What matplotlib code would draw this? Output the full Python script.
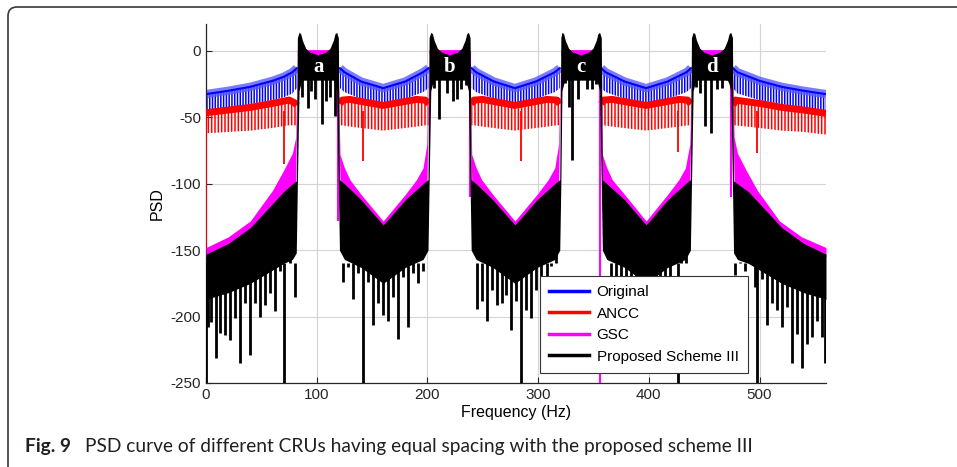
import numpy as np
import matplotlib
matplotlib.use("Agg")
import matplotlib.pyplot as plt
from matplotlib.lines import Line2D
from matplotlib.patches import FancyBboxPatch
from matplotlib.transforms import IdentityTransform

nan = np.nan

# -------- Data (PSD in dB, frequency in Hz) --------
# Original: upper edge of the band and lower tips of its ripple
orig_f = [0, 20, 40, 60, 70, 78, 82, 83, 120, 121, 125, 140, 160, 180, 196, 201,
          202, 239, 240, 244, 260, 279, 298, 315, 319.5, 320.5, 356.5, 357, 361, 378,
          397.5, 417, 434, 438, 439, 475.5, 476, 480, 500, 520, 540, 560]
orig_top = [-32.5, -30, -27, -22.5, -19.5, -16, -13, nan, nan, -13, -16, -23, -28, -23, -16, -13,
            nan, nan, -13, -16, -23, -28, -23, -16, -13, nan, nan, -13, -16, -23,
            -28, -23, -16, -13, nan, nan, -13, -16, -22.5, -27, -30, -32.5]
orig_low = [-45, -43, -40, -37, -35, -32, -28, nan, nan, -28, -31, -36, -40, -36, -31, -28,
            nan, nan, -28, -31, -36, -40, -36, -31, -28, nan, nan, -28, -31, -36,
            -40, -36, -31, -28, nan, nan, -28, -32, -37, -40, -43, -45]

# ANCC
ancc_f = [0, 20, 40, 60, 75, 80, 82, 83, 120, 121, 123, 130, 160, 190, 198, 201,
          202, 239, 239.5, 242, 250, 279, 308, 317, 319.5, 320.5, 356.5, 357, 359, 367,
          397.5, 427, 435, 438, 439, 475.5, 476, 478, 500, 520, 540, 560]
ancc_top = [-46.5, -44.5, -42.5, -39.5, -37, -39, -41, nan, nan, -40, -37, -36.5, -41, -36.5, -37, -40,
            nan, nan, -40, -37, -36.5, -41, -36.5, -37, -40, nan, nan, -40, -37, -36.5,
            -41, -36.5, -37, -40, nan, nan, -41, -37, -39.5, -42.5, -44.5, -47]
ancc_low = [-62, -61, -60, -58, -56, -56, -56, nan, nan, -56, -56, -57, -60, -57, -56, -56,
            nan, nan, -56, -56, -57, -60, -57, -56, -56, nan, nan, -56, -56, -57,
            -60, -57, -56, -56, nan, nan, -56, -56, -58, -60, -61, -63]
ancc_spike_f = [0, 70.7, 142, 284.4, 426.6, 497.7]
ancc_spike_v = [-150, -85, -83, -83, -76, -77]

# GSC
gsc_f = [0, 20, 40, 60, 70, 78, 81, 82.5, 119,
         121, 125, 130, 140, 160, 180, 190, 196, 199.5, 201.5, 238,
         240, 244, 249, 259, 279, 299, 309, 315, 318.5, 320.5, 356,
         358, 362, 367, 378, 397.5, 417, 427, 433, 437, 439, 475,
         477, 480, 488, 498, 518, 538, 560]
gsc_top = [-148, -140, -128, -105, -90, -77, -65, 1, 1,
           -78, -88, -97, -108, -128, -108, -97, -88, -70, 1, 1,
           -78, -88, -97, -108, -128, -108, -97, -88, -70, 1, 1,
           -78, -88, -97, -108, -128, -108, -97, -88, -70, 1, 1,
           -65, -77, -90, -105, -128, -140, -148]
gsc_low = [-155, -147, -135, -117, -108, -102, -100, -3, -3,
           -100, -102, -106, -114, -134, -114, -106, -102, -100, -3, -3,
           -100, -102, -106, -114, -134, -114, -106, -102, -100, -3, -3,
           -100, -102, -106, -114, -134, -114, -106, -102, -100, -3, -3,
           -100, -102, -108, -117, -135, -147, -155]
gsc_spike_f = [119.5, 238.5, 356, 474.5]
gsc_spike_v = [-128, -110, -250, -110]

# Proposed scheme III: top of the trace and bottom of its solid part
prop_f = [0, 20, 40, 60, 70, 78, 81.5,
          82.5, 84, 85.5, 87, 90, 94, 101, 108, 112, 115, 116.5, 118, 119.5,
          120.5, 125, 140, 160, 180, 196, 200.5,
          201.5, 203, 204.5, 206, 209, 213, 220, 227, 231, 234, 235.5, 237, 238.5,
          239.5, 244, 259, 279, 299, 315, 319.5,
          320.5, 321.5, 323, 324.5, 327.5, 331.5, 338.5, 345.5, 349.5, 352.5, 354, 355.5, 357,
          358, 362, 378, 397.5, 417, 433, 437.5,
          438.5, 440, 441.5, 443, 446, 450, 457, 464, 468, 471, 472.5, 474, 475.5,
          476.5, 480, 490, 500, 520, 540, 560]
prop_top = [-153, -145, -133, -115, -106, -100, -98,
            10, 14, 13, 8, 2, -1, -3, -1, 2, 8, 13, 14, 10,
            -97, -100, -112, -131, -112, -100, -97,
            10, 14, 13, 8, 2, -1, -3, -1, 2, 8, 13, 14, 10,
            -97, -100, -112, -131, -112, -100, -97,
            10, 14, 13, 8, 2, -1, -3, -1, 2, 8, 13, 14, 10,
            -97, -100, -112, -131, -112, -100, -97,
            10, 14, 13, 8, 2, -1, -3, -1, 2, 8, 13, 14, 10,
            -98, -100, -106, -115, -133, -145, -153]
prop_low = [-187, -182, -175, -165, -160, -157, -152,
            -100, -30, -25, -22, -22, -22, -22, -22, -22, -22, -25, -30, -100,
            -150, -157, -163, -175, -163, -157, -150,
            -100, -30, -25, -22, -22, -22, -22, -22, -22, -22, -25, -30, -100,
            -150, -157, -163, -175, -163, -157, -150,
            -100, -30, -25, -22, -22, -22, -22, -22, -22, -22, -25, -30, -100,
            -150, -157, -163, -175, -163, -157, -150,
            -100, -30, -25, -22, -22, -22, -22, -22, -22, -22, -25, -30, -100,
            -152, -157, -160, -165, -175, -182, -187]

# deep notches between the bands
prop_spike_f = [0, 2, 4.5, 8.7, 12.6, 17, 21.7, 26, 30.7, 35, 39.7, 44, 48.8, 53, 57.8, 62, 67, 70.7, 76, 80,
                124, 128.6, 133, 137.6, 142, 146.6, 151, 155.6, 160, 164.7, 169, 173.7, 178, 182.7, 187, 191.8, 196,
                244.5, 249, 254, 258, 262.6, 267, 271, 275.5, 280, 284.4, 289, 293.6, 298, 303, 307.8, 311.4, 316,
                361, 365.5, 370, 374.5, 379, 383.5, 388, 392.5, 397, 401.5, 406, 410.5, 415, 419.5, 424, 426.6, 429, 433.5,
                478, 482.4, 487, 491.4, 496, 497.7, 502, 506.5, 511, 515.5, 520, 524.6, 529, 533.6, 538, 542.6, 547, 551.7, 556, 559]
prop_spike_v = [-250, -208, -204, -231, -212, -214, -218, -201, -235, -190, -229, -190, -200, -191, -182, -196, -166, -250, -156, -185,
                -174, -163, -187, -167, -250, -174, -206, -190, -199, -203, -185, -217, -170, -208, -167, -175, -166,
                -194, -188, -203, -180, -191, -190, -184, -210, -188, -250, -195, -201, -180, -175, -172, -162, -150,
                -160, -175, -190, -185, -200, -195, -205, -190, -210, -200, -185, -205, -190, -175, -160, -250, -155, -152,
                -169, -159, -166, -160, -178, -250, -172, -206, -190, -195, -208, -193, -235, -213, -239, -221, -215, -203, -215, -235]

# notches inside the four bands
band_spike_f = [86.5, 92.4, 95, 98.5, 104.5, 108, 112, 116.5,
                206, 210.8, 217.4, 223.4, 227, 230.6, 234.5,
                324.3, 328, 331, 336, 344, 348.4, 352,
                443, 446, 450.8, 456, 461.3, 466, 470.3]
band_spike_v = [-35, -43, -30, -36.5, -55, -38, -35, -49,
                -28, -51.5, -32, -37.5, -36.5, -29, -26,
                -24, -42, -82, -36.5, -29, -29, -25,
                -27, -32, -56.5, -62, -29, -28, -22]

band_names = ["a", "b", "c", "d"]
band_centers = [101.5, 220, 338.5, 457]

# -------- Plot --------
plt.rcParams['font.family'] = ['Liberation Sans', 'DejaVu Sans']
plt.rcParams['axes.unicode_minus'] = False
plt.rcParams['hatch.linewidth'] = 1.1

fig = plt.figure(figsize=(9.57, 4.67), dpi=100)
ax = fig.add_axes([0.2153, 0.1799, 0.6478, 0.7679])

blue, red, mag = '#0000ff', '#ff0000', '#ff00ff'

# Original
ax.fill_between(orig_f, orig_top, orig_low, facecolor='none', edgecolor=blue,
                hatch='||||||', linewidth=0, zorder=2)
ax.plot(orig_f, orig_top, color='#5a5aff', lw=6, alpha=0.8, zorder=2, solid_capstyle='butt')
ax.plot(orig_f, orig_top, color=blue, lw=1.5, zorder=2)

# ANCC
ax.fill_between(ancc_f, ancc_top, ancc_low, facecolor='none', edgecolor=red,
                hatch='|||||', linewidth=0, zorder=3)
ax.plot(ancc_f, ancc_top, color=red, lw=5, zorder=3, solid_capstyle='butt')
ax.vlines(ancc_spike_f, ancc_spike_v, -45, colors=red, lw=1.3, zorder=3)

# GSC
ax.fill_between(gsc_f, gsc_top, gsc_low, color=mag, linewidth=0, zorder=4)
ax.vlines(gsc_spike_f, gsc_spike_v, 0, colors=mag, lw=1.5, zorder=4)

# Proposed scheme III
ax.fill_between(prop_f, prop_top, prop_low, color='k', linewidth=0, zorder=5)
ax.vlines(prop_spike_f, prop_spike_v, -160, colors='k', lw=2, zorder=5)
ax.vlines(band_spike_f, band_spike_v, -15, colors='k', lw=2, zorder=5)

for name, xc in zip(band_names, band_centers):
    ax.text(xc, -12, name, color='white', fontsize=15, fontweight='bold',
            family='Liberation Serif', ha='center', va='center', zorder=6)

ax.set_xlim(0, 560)
ax.set_ylim(-250, 20)
ax.set_xticks(range(0, 501, 100))
ax.set_yticks(range(-250, 1, 50))
ax.grid(True, color='#d4d4d4', lw=0.8)
ax.set_axisbelow(True)
ax.spines['top'].set_visible(False)
ax.spines['right'].set_visible(False)
for s in ['left', 'bottom']:
    ax.spines[s].set_color('#262626')
    ax.spines[s].set_linewidth(0.9)
ax.tick_params(direction='in', length=4, width=0.8, labelsize=11, colors='#262626')
ax.set_xlabel("Frequency (Hz)", fontsize=11.5, labelpad=2)
ax.set_ylabel("PSD", fontsize=11.5, labelpad=4)

handles = [Line2D([], [], color=c, lw=2.5) for c in [blue, red, mag, 'k']]
leg = ax.legend(handles, ["Original", "ANCC", "GSC", "Proposed Scheme III"],
                loc='lower left', bbox_to_anchor=(0.539, 0.028), borderaxespad=0,
                fontsize=11, labelspacing=0.5, borderpad=0.6, handlelength=2.6,
                handletextpad=0.5, fancybox=False, framealpha=1, edgecolor='#333333')
leg.get_frame().set_linewidth(0.8)
leg.set_zorder(10)

# caption and frame
fig.add_artist(FancyBboxPatch((8, -30), 1000, 490, boxstyle='round,pad=0,rounding_size=9',
                              transform=IdentityTransform(), facecolor='none',
                              edgecolor='#3a3a3a', lw=1.2))
fig.text(25 / 957, 0.033, "Fig. 9", fontsize=13.8, fontweight='bold', family='Lato',
         color='#231f20', va='baseline')
fig.text(85 / 957, 0.033, "PSD curve of different CRUs having equal spacing with the proposed scheme III",
         fontsize=13.8, family='Lato', color='#231f20', va='baseline')

fig.savefig("out.png", dpi=100)
